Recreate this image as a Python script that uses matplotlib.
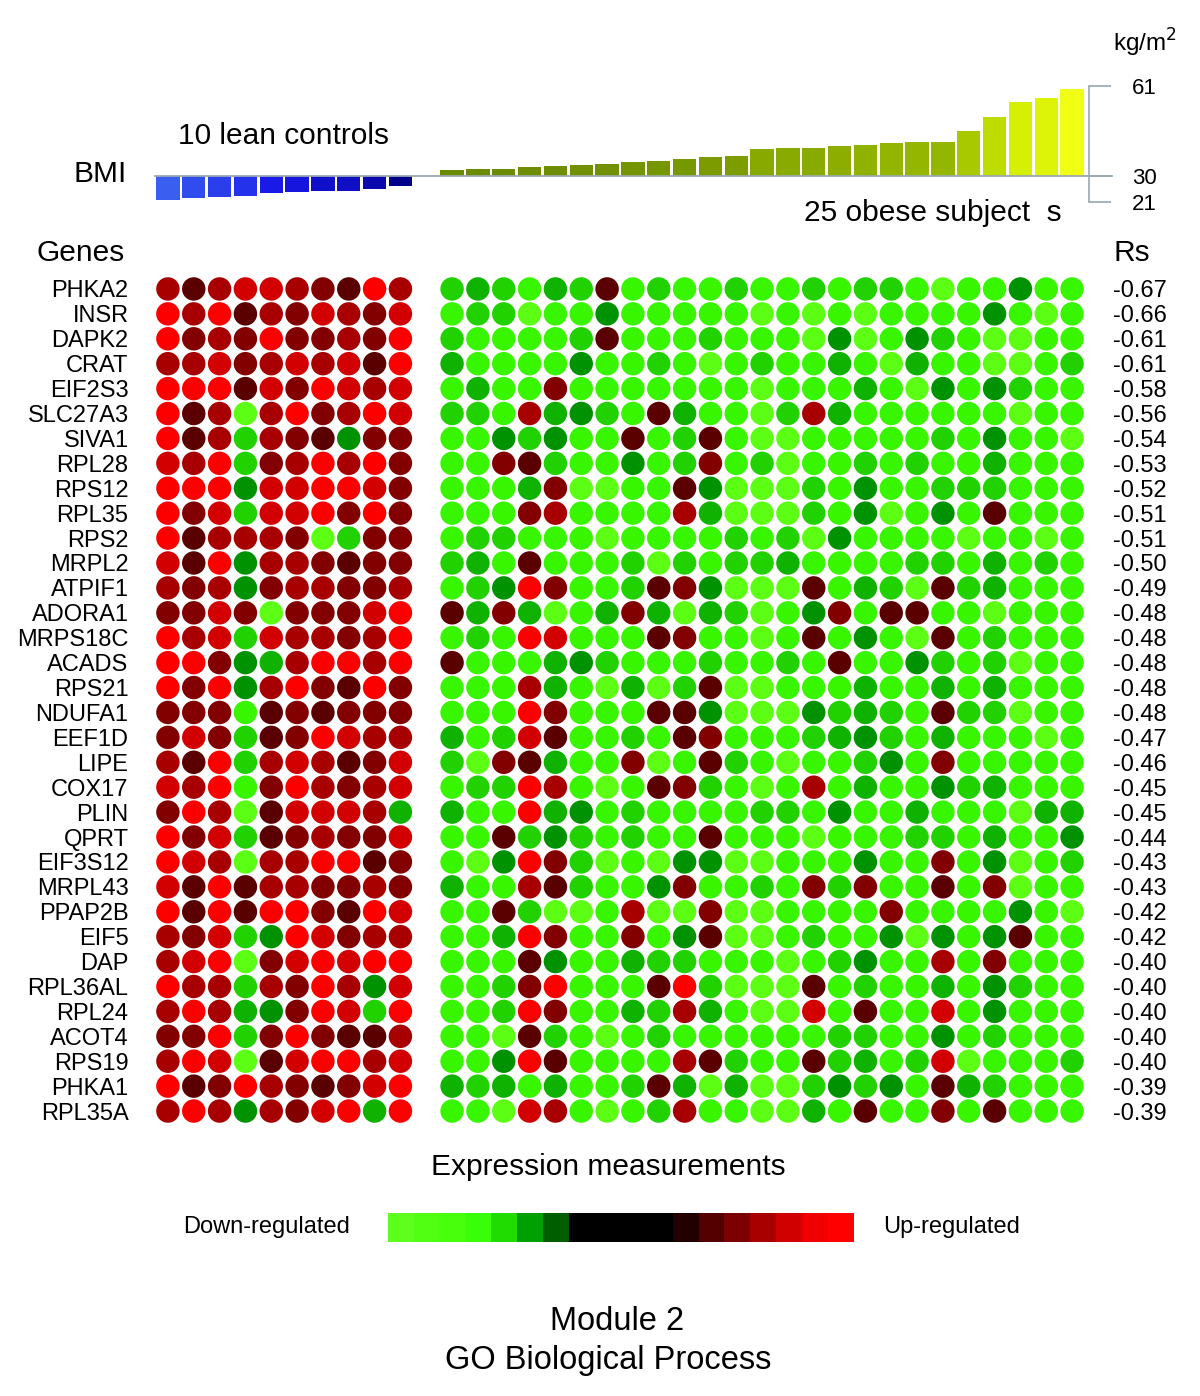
import numpy as np
import matplotlib
matplotlib.use("Agg")
import matplotlib.pyplot as plt
from matplotlib.colors import ListedColormap, LinearSegmentedColormap, Normalize

plt.rcParams['font.family'] = ['Liberation Sans', 'DejaVu Sans']

genes = ["PHKA2", "INSR", "DAPK2", "CRAT", "EIF2S3", "SLC27A3", "SIVA1", "RPL28",
         "RPS12", "RPL35", "RPS2", "MRPL2", "ATPIF1", "ADORA1", "MRPS18C", "ACADS",
         "RPS21", "NDUFA1", "EEF1D", "LIPE", "COX17", "PLIN", "QPRT", "EIF3S12",
         "MRPL43", "PPAP2B", "EIF5", "DAP", "RPL36AL", "RPL24", "ACOT4", "RPS19",
         "PHKA1", "RPL35A"]
rs = ["-0.67", "-0.66", "-0.61", "-0.61", "-0.58", "-0.56", "-0.54", "-0.53",
      "-0.52", "-0.51", "-0.51", "-0.50", "-0.49", "-0.48", "-0.48", "-0.48",
      "-0.48", "-0.48", "-0.47", "-0.46", "-0.45", "-0.45", "-0.44", "-0.43",
      "-0.43", "-0.42", "-0.42", "-0.40", "-0.40", "-0.40", "-0.40", "-0.40",
      "-0.39", "-0.39"]

lean_bmi = [21.7, 22.3, 22.8, 23.2, 24.0, 24.3, 24.8, 24.9, 25.5, 26.4]
obese_bmi = [32.1, 32.4, 32.4, 33.2, 33.3, 33.6, 34.0, 34.8, 35.1, 35.7, 36.4, 36.7,
             39.3, 39.5, 39.5, 40.2, 40.8, 41.4, 41.7, 41.7, 45.6, 50.3, 55.6, 56.8, 60.1]

# expression level per subject, one string per gene
# A..E = down-regulated (light -> dark green), m..q = up-regulated (dark -> bright red)
lean_expr = [
    "omopponmqo", "qoqmonponp", "qnonqnnonq", "oopnopopmq", "qqqmpnqpop",
    "qmoAoqnoqp", "qmoConmEnn", "poqCnoqoqn", "qqqEppqqpn", "qnpCppqnqn",
    "qmooonACnn", "pmqEoonmnn", "onoEnoonno", "nnpnAnnnpq", "qopCpoonoq",
    "qqnEDoqqoq", "qnqEoqnmqn", "nnnBmnmnnn", "npnCmnqpoo", "omqCopomnp",
    "poqBnqonop", "nqoAmpppoD", "qnpCmnonnp", "qpoAooqqmn", "pmqmoonnon",
    "qmqmqqnmqp", "onpCEqpnoo", "opqAnpqpqq", "qooConqoEp", "oqoDEnqpCq",
    "nnqCnqnmmo", "oqpAmpqqop", "qmnqonmnpq", "oqoEonpqDq",
]
obese_expr = [
    "CDCBDCmBCBBC" "BBCBCCBABBEBB",
    "BCCABBEBBBBB" "ABABABBBBEBAB",
    "CBBBBCmBBBCB" "BBAEABECBAABB",
    "DBBBBEBBCBAB" "CBBDBADBBAABC",
    "BDBBnBBBBBBB" "ABBBDBAEBECBB",
    "CCBoDECBmDBB" "ACoDBBBBBBABB",
    "BBECEBBmBCmB" "AABBBBBCBEBBA",
    "BBnmCBBEBCnB" "CABBCBCBBDBBB",
    "BBBDnAABBmEA" "AACBEBBCCCBBB",
    "BBBnoBBBBoDA" "AACBEABEBmBBB",
    "BCCBBBABBBBC" "BCAEBBBBABBAB",
    "CDBmBBBCACBC" "CDBBBBCCBDBCB",
    "BCEqnBBCmnEA" "AAmBDCAmCDBBB",
    "mDnDABDnDADC" "ABEnBmmBBABBB",
    "BCBqpBBBmnBB" "ABmBEBAmBCBBB",
    "mBBBDECBBBCB" "BCBmBBECBCABB",
    "BBBoDBADACmA" "ABBBDBBDBDBBB",
    "BBBqnBBBmmEA" "AAECDCBmCCABB",
    "DBCpmBBCBmnB" "BBCDECBDBBBAB",
    "CAnmDBBnABmC" "BABBCEBnBBBBB",
    "BCCqoBABmnCB" "ABoBDBBECDBBB",
    "DBBqDEBCBBBB" "CCBEBBDBBBADD",
    "BBmCECBCBBmB" "BBABBBCCBDBBE",
    "BAEqnCABAEEA" "ABBBEBBnBEABC",
    "DBBomCBBEnBB" "CBnCnBBmBnABB",
    "BBmCAABoAAnA" "ABBBBnBBBBEBA",
    "BBDqnBBnBEmA" "ABCBBEAEBEmBB",
    "BBBmEBBDCCBB" "BABCEBBoBnBBB",
    "BBCnqBBBmqCA" "AAmBCBBDBECBB",
    "BBCqnBBDCoDB" "AApBmBBpBEBBB",
    "BBAmCBABCBBB" "BBBCCBBEBCBBB",
    "BBEqmBBBBomC" "BBmCDBCpABBBC",
    "DCDBDBBCmDAD" "AACECEBmDCBBB",
    "BBApoBABCoBB" "AADBmBBnBmBBB",
]
levels = "ABCDEmnopq"
level_colors = ['#5cff14', '#38f500', '#22d200', '#10b200', '#009200',
                '#5a0000', '#820000', '#a80000', '#d20000', '#fc0000']
scale_colors = ['#5eff1c', '#50ff12', '#48ff0c', '#38ff08', '#20dc00', '#00a000',
                '#005e00', '#000000', '#000000', '#000000', '#000000', '#220000',
                '#540000', '#7c0000', '#a80000', '#d00000', '#f00000', '#ff0000']

W, H = 1200, 1396


def frac(x0, y0, x1, y1):
    return [x0 / W, 1 - y1 / H, (x1 - x0) / W, (y1 - y0) / H]


fig = plt.figure(figsize=(W / 100, H / 100), dpi=100)

n_lean = len(lean_bmi)
xpos_lean = np.arange(n_lean)
xpos_obese = np.arange(len(obese_bmi)) + n_lean + 1
xlim = (-0.5, n_lean + len(obese_bmi) + 0.5)

# BMI bars
axb = fig.add_axes(frac(155, 86, 1085, 202))
lean_cmap = LinearSegmentedColormap.from_list("lean", ['#3a5ef0', '#1818e8', '#00008a'])
obese_cmap = LinearSegmentedColormap.from_list(
    "obese", ['#6a8a00', '#80a000', '#9cbf00', '#b8d600', '#d0ec00', '#f0ff14'])
ln = Normalize(min(lean_bmi), max(lean_bmi))
on = Normalize(min(obese_bmi), max(obese_bmi))
axb.bar(xpos_lean, np.array(lean_bmi) - 30, bottom=30, width=0.9,
        color=[lean_cmap(ln(v)) for v in lean_bmi])
axb.bar(xpos_obese, np.array(obese_bmi) - 30, bottom=30, width=0.9,
        color=[obese_cmap(on(v)) for v in obese_bmi])
axb.set_xlim(*xlim)
axb.set_ylim(21, 61)
axb.axhline(30, xmin=0, xmax=(1112 - 155) / 930, color='#9aa8b0', lw=1.3, clip_on=False)
for s in ['top', 'left', 'bottom']:
    axb.spines[s].set_visible(False)
axb.spines['right'].set_position(('outward', 3))
axb.spines['right'].set_color('#9aa8b0')
axb.spines['right'].set_linewidth(1.2)
axb.set_xticks([])
axb.yaxis.tick_right()
axb.set_yticks([21, 30, 61])
axb.tick_params(axis='y', direction='out', length=16, width=1.2, color='#9aa8b0',
                pad=15, labelsize=16)

# expression dots
ax = fig.add_axes(frac(155, 276.5, 1085, 1123.5))
cmap = ListedColormap(level_colors)
for xs, rows in [(xpos_lean, lean_expr), (xpos_obese, obese_expr)]:
    for r, row in enumerate(rows):
        vals = [levels.index(ch) for ch in row]
        ax.scatter(xs, np.full(len(xs), r), c=vals, cmap=cmap, vmin=-0.5, vmax=9.5,
                   s=285, linewidths=0)
ax.set_xlim(*xlim)
ax.set_ylim(len(genes) - 0.5, -0.5)
ax.set_xticks([])
ax.set_yticks(range(len(genes)), genes)
ax.tick_params(axis='y', length=0, pad=19, labelsize=17)
for s in ax.spines.values():
    s.set_visible(False)
ax2 = ax.twinx()
ax2.set_ylim(len(genes) - 0.5, -0.5)
ax2.set_yticks(range(len(rs)), rs)
ax2.tick_params(axis='y', length=0, pad=20, labelsize=17)
for s in ax2.spines.values():
    s.set_visible(False)

# colour scale
axc = fig.add_axes(frac(388, 1213, 853, 1242))
axc.imshow(np.arange(len(scale_colors))[None, :], cmap=ListedColormap(scale_colors),
           aspect='auto', interpolation='nearest')
axc.set_axis_off()


def label(x, y, s, size, ha='left'):
    fig.text(x / W, 1 - y / H, s, fontsize=size, ha=ha, va='center')


label(178, 136, "10 lean controls", 21.5)
label(73, 174, "BMI", 21.5)
label(1062, 213, "25 obese subject  s", 21.5, ha='right')
label(1113, 43, "kg/m$^2$", 17.5)
label(37, 253, "Genes", 21.5)
label(1113, 253, "Rs", 21.5)
label(608, 1167, "Expression measurements", 21.5, ha='center')
label(183, 1227, "Down-regulated", 17)
label(883, 1227, "Up-regulated", 17)
label(617, 1322, "Module 2", 23.5, ha='center')
label(608, 1361, "GO Biological Process", 23.5, ha='center')

fig.savefig("out.png", dpi=100)
